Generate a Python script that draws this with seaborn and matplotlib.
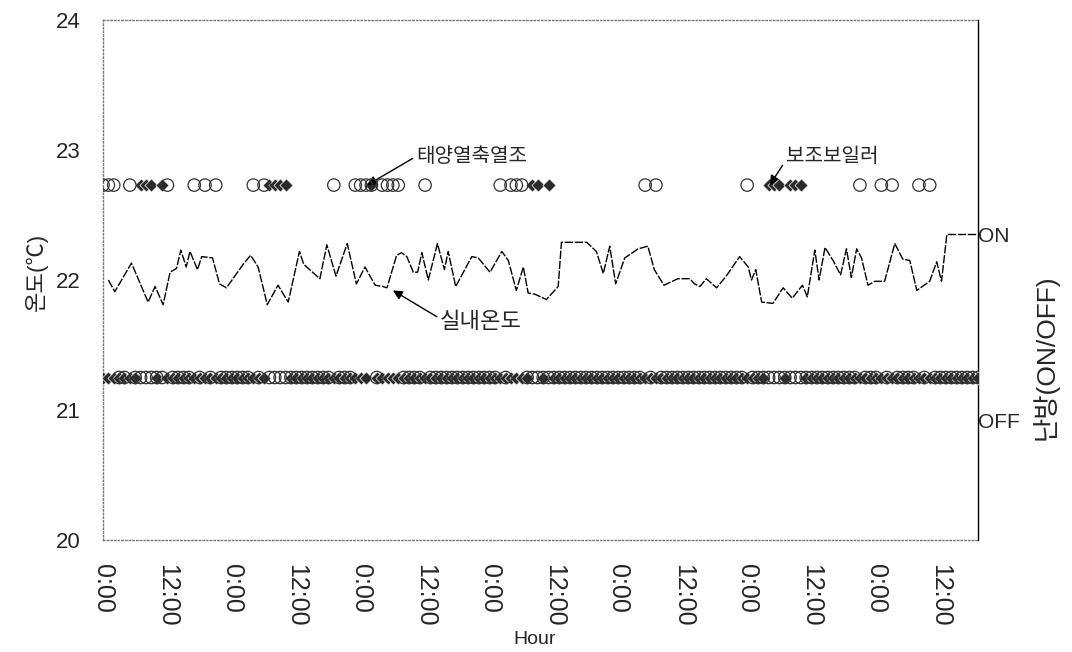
import numpy as np
import pandas as pd
import matplotlib
matplotlib.use("Agg")
import matplotlib.pyplot as plt
import seaborn as sns

# ---- data ----
hours = [1.0, 2.2, 5.3, 8.4, 9.7, 11.2, 12.5, 13.7, 14.5, 15.5, 16.2, 17.6, 18.4, 20.4,
         21.7, 23.0, 26.1, 27.5, 28.9, 30.6, 32.6, 34.5, 36.6, 37.4, 40.4, 41.7, 43.4,
         45.5, 47.2, 48.8, 50.7, 52.1, 52.9, 54.7, 55.6, 56.6, 57.8, 58.6, 59.4, 60.6,
         62.3, 63.6, 64.3, 65.7, 68.7, 69.9, 72.1, 74.3, 75.5, 77.0, 78.3, 79.2, 80.5,
         82.6, 84.8, 85.4, 90.1, 91.9, 93.2, 94.4, 95.5, 97.2, 99.7, 101.5, 102.7, 104.5,
         107.1, 109.3, 110.2, 111.2, 112.4, 114.3, 116.1, 118.6, 120.2, 120.8, 121.6,
         122.7, 124.8, 126.7, 128.4, 130.3, 131.2, 132.6, 133.4, 134.5, 136.0, 137.4,
         138.5, 139.4, 140.4, 141.3, 142.5, 143.8, 145.6, 147.5, 149.0, 150.3, 151.6,
         154.0, 155.3, 156.2, 157.2, 158.3, 162.7]
indoor_temp = [22.00, 21.91, 22.13, 21.83, 21.95, 21.81, 22.06, 22.09, 22.23, 22.10, 22.22,
               22.08, 22.18, 22.17, 21.97, 21.94, 22.12, 22.19, 22.10, 21.81, 21.96, 21.83,
               22.22, 22.12, 22.01, 22.27, 22.03, 22.28, 21.97, 22.10, 21.96, 21.95, 21.94,
               22.19, 22.21, 22.18, 22.06, 22.06, 22.21, 22.00, 22.28, 22.08, 22.22, 21.95,
               22.18, 22.17, 22.06, 22.22, 22.15, 21.92, 22.10, 21.90, 21.89, 21.85, 21.95,
               22.29, 22.29, 22.22, 22.05, 22.26, 21.97, 22.17, 22.24, 22.26, 22.08, 21.96,
               22.01, 22.01, 21.97, 21.95, 22.01, 21.94, 22.03, 22.18, 22.10, 22.00, 22.08,
               21.83, 21.82, 21.94, 21.86, 21.96, 21.87, 22.23, 22.00, 22.25, 22.15, 22.04,
               22.24, 22.02, 22.24, 22.17, 21.96, 21.99, 21.99, 22.28, 22.16, 22.15, 21.92,
               21.99, 22.14, 21.99, 22.35, 22.35, 22.35]

state_hours = list(range(0, 164))
solar_on_hours = [0, 1, 2, 5, 12, 17, 19, 21, 28, 30, 43, 47, 48, 49, 50, 52, 53, 54, 55,
                  60, 74, 76, 77, 78, 101, 103, 120, 141, 145, 147, 152, 154]
boiler_on_hours = [7, 8, 9, 11, 31, 32, 33, 34, 50, 80, 81, 83, 124, 125, 126, 128, 129, 130]

y_ticks = [20, 21, 22, 23, 24]
x_ticks = list(range(0, 157, 12))
x_ticklabels = ["0:00" if h % 24 == 0 else "12:00" for h in x_ticks]
ON_LEVEL, OFF_LEVEL = 22.35, 20.92      # right-axis ON / OFF positions
ON_ROW, OFF_ROW = 22.73, 21.25          # rows where the state markers sit

# ---- style ----
sns.set_theme(style="white")
plt.rcParams["font.family"] = ["Liberation Sans", "Noto Sans CJK KR", "DejaVu Sans"]

fig = plt.figure(figsize=(10.72, 6.52), dpi=100)
ax = fig.add_axes([103 / 1072, 1 - 540 / 652, 875 / 1072, 520 / 652])

temp_df = pd.DataFrame({"hour": hours, "temp": indoor_temp})
solar_df = pd.DataFrame({"hour": state_hours,
                         "row": [ON_ROW if h in solar_on_hours else OFF_ROW for h in state_hours]})
boiler_df = pd.DataFrame({"hour": state_hours,
                          "row": [ON_ROW if h in boiler_on_hours else OFF_ROW for h in state_hours]})

# band (OFF states) drawn first, then ON states
sns.scatterplot(data=boiler_df, x="hour", y="row", marker="D", s=45, color="#2a2a2a",
                edgecolor="white", linewidth=0.5, ax=ax, zorder=3, legend=False)
sns.scatterplot(data=solar_df, x="hour", y="row", marker="o", s=80, facecolor="none",
                edgecolor="#333333", linewidth=0.9, ax=ax, zorder=4, legend=False)

sns.lineplot(data=temp_df, x="hour", y="temp", color="black", linewidth=1.0,
             dashes=False, ax=ax, zorder=5, estimator=None, sort=False)
ax.lines[-1].set_dashes((6, 1.2))

ax.set_xlim(0, 163)
ax.set_ylim(20, 24)
ax.set_yticks(y_ticks)
ax.set_yticklabels([str(v) for v in y_ticks], fontsize=16)
ax.set_xticks(x_ticks)
ax.set_xticklabels(x_ticklabels, rotation=-90, fontsize=18, va="top", ha="center")
ax.tick_params(axis="x", length=0, pad=17)
ax.tick_params(axis="y", length=0, pad=16)
ax.set_xlabel("")
ax.set_ylabel("")

for side in ["left", "top", "bottom"]:
    ax.spines[side].set_linestyle(":")
    ax.spines[side].set_color("#777777")
    ax.spines[side].set_linewidth(1.0)
ax.spines["right"].set_color("black")
ax.spines["right"].set_linewidth(1.0)

# right axis ON / OFF
ax2 = ax.twinx()
ax2.set_ylim(20, 24)
ax2.set_yticks([ON_LEVEL, OFF_LEVEL])
ax2.set_yticklabels(["ON", "OFF"], fontsize=15)
ax2.tick_params(axis="y", length=0, pad=0)
for side in ["left", "top", "bottom", "right"]:
    ax2.spines[side].set_visible(False)

# axis titles
fig.text(36 / 1072, 1 - 272 / 652, "온도(℃)", rotation=90, ha="center", va="center", fontsize=16)
fig.text(1045 / 1072, 1 - 357 / 652, "난방(ON/OFF)", rotation=90, ha="center", va="center", fontsize=19)
fig.text(535 / 1072, 1 - 640 / 652, "Hour", ha="center", va="center", fontsize=14)

# annotations
arrow = dict(arrowstyle="-|>", color="black", lw=1.0, mutation_scale=14, shrinkA=0, shrinkB=0)
ax.annotate("태양열축열조", xy=(49.2, 22.73), xytext=(58.3, 22.95), fontsize=14.5,
            va="center", ha="left", arrowprops=dict(arrow, relpos=(0, 0.5)))
ax.annotate("보조보일러", xy=(124.2, 22.73), xytext=(127.2, 22.95), fontsize=14.5,
            va="center", ha="left", arrowprops=dict(arrow, relpos=(0, 0.3)))
ax.annotate("실내온도", xy=(54.0, 21.92), xytext=(62.8, 21.67), fontsize=16,
            va="center", ha="left", arrowprops=dict(arrow, relpos=(0, 0.7)))

fig.savefig("out.png", dpi=100)
